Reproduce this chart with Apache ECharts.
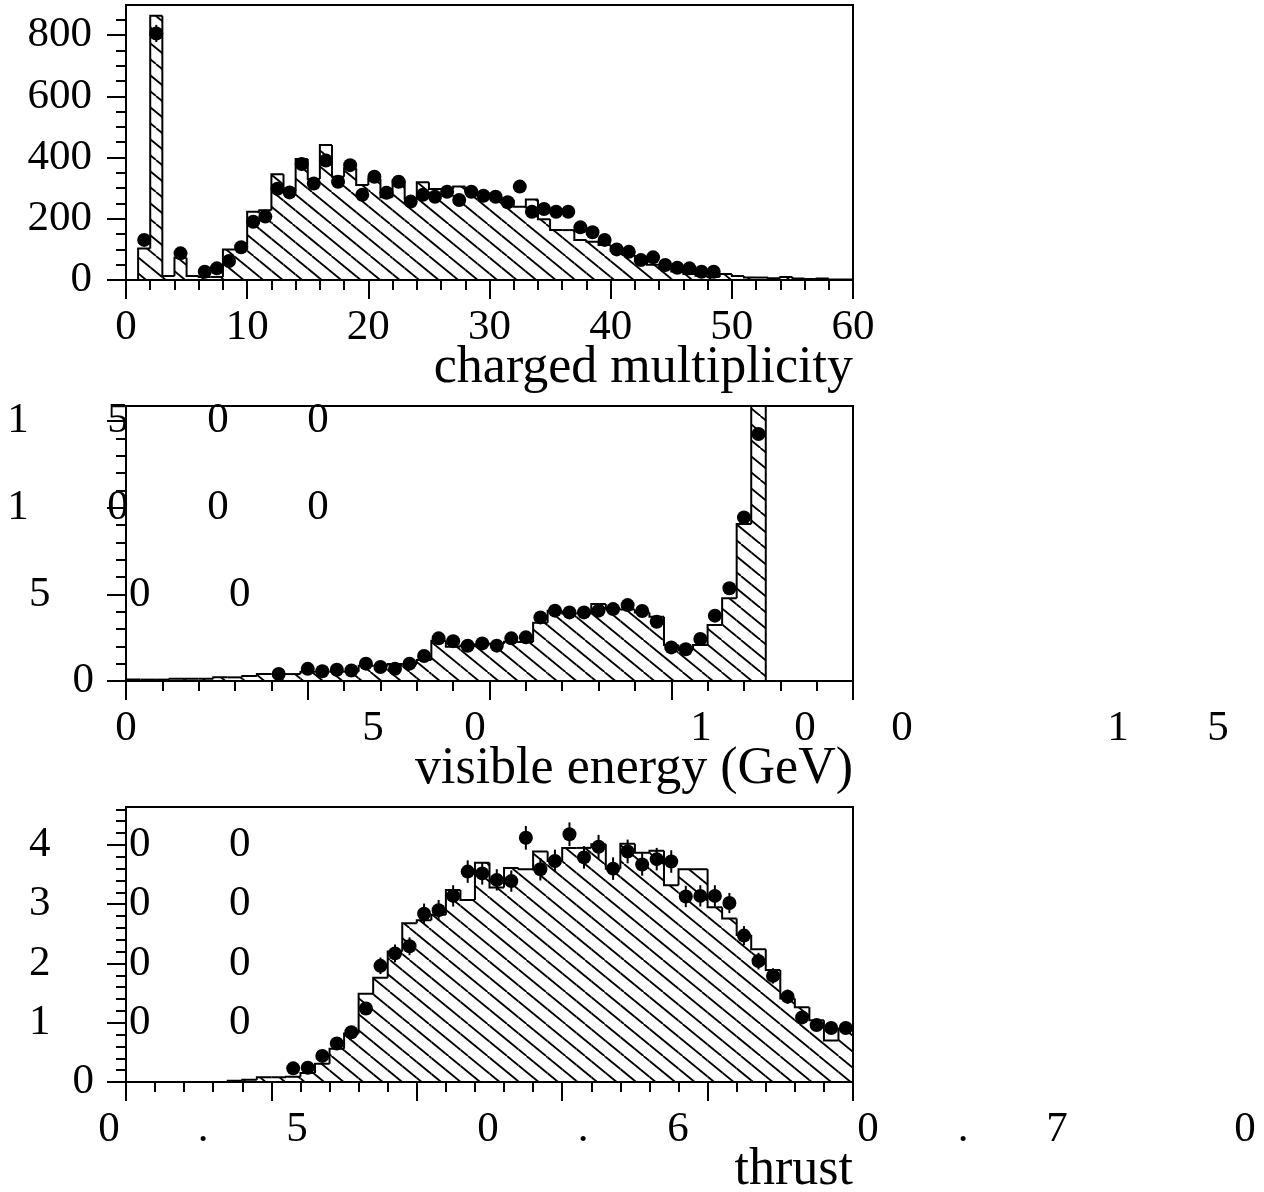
<!DOCTYPE html>
<html><head><meta charset="utf-8">
<script src="https://cdn.jsdelivr.net/npm/echarts@6/dist/echarts.min.js"></script>
<style>html,body{margin:0;padding:0;background:#fff}#c{width:1264px;height:1192px}</style>
</head><body><div id="c"></div>
<script>
// ---------------- DATA ----------------
// Panel 1: charged multiplicity, bins of width 1 from 0 to 60
const MULT_HIST = [0,103,863,13,73,13,10,10,100,100,
  223,228,345,290,395,330,441,337,365,310,
  330,270,325,265,319,297,297,305,290,283,
  272,262,239,263,198,163,163,131,125,114,
  95,82,62,50,38,28,20,14,10,20,
  13,8,8,6,10,5,3,5,2,2];
const MULT_DOTS = [null,131,805,null,87,null,27,38,62,107,
  190,207,298,286,379,315,390,321,375,278,
  337,285,321,256,278,272,288,261,288,275,
  272,254,305,223,232,223,223,172,156,131,
  100,92,65,74,49,40,38,27,27,null,
  null,null,null,null,null,null,null,null,null,null];
const MULT_ERR = [0,11,28,0,9,0,5,6,8,10,
  14,14,17,17,19,18,20,18,19,17,
  18,17,18,16,17,16,17,16,17,17,
  16,16,17,15,15,15,15,13,12,11,
  10,10,8,9,7,6,6,5,5,0,
  0,0,0,0,0,0,0,0,0,0];
const MULT_Y_TICKS = [0,200,400,600,800];

// Panel 2: visible energy (GeV), bins of 4 GeV from 0 to 200
const ENERGY_HIST = [8,8,8,13,13,13,21,21,29,40,
  40,40,54,54,54,54,88,88,98,98,
  121,233,198,205,210,215,227,225,336,406,
  390,390,444,419,413,395,371,208,179,208,
  323,477,906,1700,0,0,0,0,0,0];
const ENERGY_DOTS = [null,null,null,null,null,null,null,null,null,null,
  40,null,70,56,65,61,100,81,70,100,
  144,246,230,203,217,204,246,252,367,406,
  396,396,406,415,438,404,342,194,183,242,
  377,535,944,1425,null,null,null,null,null,null];
const ENERGY_Y_TICKS = [1500,1000,500,0];
const ENERGY_Y_LABELS = ['1500','1000','500','0'];
const ENERGY_X_CHARS = ['0','5','0','1','0','0','1','5'];

// Panel 3: thrust, bins of 0.01 from 0.5 to 1.0
const THRUST_HIST = [0,0,0,0,0,0,0,2,4,8,
  8,9,15,31,56,82,149,176,220,268,
  273,282,324,307,370,328,361,359,389,373,
  395,395,401,360,402,387,390,332,359,359,
  295,276,248,224,189,141,126,104,70,90];
const THRUST_DOTS = [null,null,null,null,null,null,null,null,null,null,
  null,23,24,44,65,84,124,196,217,229,
  284,290,314,355,352,341,339,412,359,373,
  418,379,397,360,389,367,376,372,313,314,
  314,302,247,204,179,144,109,96,91,91];
const THRUST_ERR = [0,0,0,0,0,0,0,0,0,0,
  0,5,5,7,8,9,11,14,15,15,
  17,17,18,19,19,18,18,20,19,19,
  20,19,20,19,20,19,19,19,18,18,
  18,17,16,14,13,12,10,10,10,10];
const THRUST_Y_TICKS = [400,300,200,100,0];
const THRUST_Y_LABELS = ['400','300','200','100','0'];
const THRUST_X_CHARS = ['0','.','5','0','.','6','0','.','7','0'];

const TITLES = ['charged multiplicity','visible energy (GeV)','thrust'];

// ---------------- LAYOUT / STYLE ----------------
const SERIF = '"Liberation Serif","Times New Roman",serif';
const TICK_FONT = 43;
const ENERGY_X_CHAR_POS = [126,373,475,701,805,902,1118,1218];
const THRUST_X_CHAR_POS = [109,203,297,488,583,678,868,963,1057,1245];
const GRIDS = [
  {left:126, top:5, width:727, height:275},
  {left:126, top:406, width:727, height:275},
  {left:126, top:807, width:727, height:275}
];

function makeHatch() {
  const w = 39, h = 32;
  const c = document.createElement('canvas');
  c.width = w; c.height = h;
  const g = c.getContext('2d');
  g.strokeStyle = '#000'; g.lineWidth = 1.8;
  for (let k = -3; k <= 3; k++) {
    const dx = k * 19.5;
    g.beginPath(); g.moveTo(dx, 0); g.lineTo(dx + w, h); g.stroke();
  }
  return c;
}
const HATCH = {image: makeHatch(), repeat: 'repeat'};

function histSeries(idx, yIdx, start, width, vals) {
  const data = vals.map((v, i) => [start + i * width, start + (i + 1) * width, v,
    i > 0 ? vals[i - 1] : 0, i === vals.length - 1 ? 1 : 0]);
  return {
    type: 'custom', xAxisIndex: idx, yAxisIndex: yIdx, clip: true, silent: true,
    data: data, encode: {x: [0, 1], y: 2}, z: 2,
    renderItem: function (params, api) {
      const lo = api.value(0), hi = api.value(1), v = api.value(2), pv = api.value(3), last = api.value(4);
      const a = api.coord([lo, v]), b = api.coord([hi, v]), base = api.coord([lo, 0]), p = api.coord([lo, pv]);
      const ch = [];
      if (v > 0) ch.push({type: 'rect', z2: 1, shape: {x: a[0], y: a[1], width: b[0] - a[0], height: base[1] - a[1]}, style: {fill: HATCH}});
      const pts = [[a[0], p[1]], [a[0], a[1]], [b[0], b[1]]];
      if (last) pts.push([b[0], base[1]]);
      ch.push({type: 'polyline', z2: 5, shape: {points: pts}, style: {stroke: '#000', lineWidth: 2, fill: null, lineJoin: 'miter'}});
      return {type: 'group', children: ch};
    }
  };
}
function dotSeries(idx, yIdx, start, width, vals) {
  const data = [];
  vals.forEach((v, i) => { if (v !== null) data.push([start + (i + 0.5) * width, v]); });
  return {type: 'scatter', xAxisIndex: idx, yAxisIndex: yIdx, data: data, symbol: 'circle', symbolSize: 14,
    itemStyle: {color: '#000', opacity: 1}, silent: true, z: 4};
}
function errSeries(idx, yIdx, start, width, vals, errs) {
  const data = [];
  vals.forEach((v, i) => { if (v !== null && errs[i] > 0) data.push([start + (i + 0.5) * width, v, errs[i]]); });
  return {type: 'custom', xAxisIndex: idx, yAxisIndex: yIdx, clip: true, silent: true, z: 3,
    data: data, encode: {x: 0, y: 1},
    renderItem: function (params, api) {
      const x = api.value(0), y = api.value(1), e = api.value(2);
      const p1 = api.coord([x, y - e]), p2 = api.coord([x, y + e]);
      return {type: 'line', shape: {x1: p1[0], y1: p1[1], x2: p2[0], y2: p2[1]}, style: {stroke: '#000', lineWidth: 2}};
    }};
}
function xAxis(grid, min, max, interval, showLabel) {
  return {type: 'value', gridIndex: grid, min: min, max: max, interval: interval, position: 'bottom',
    axisLine: {show: true, onZero: false, lineStyle: {color: '#000', width: 2}},
    axisTick: {show: true, inside: false, length: 19, lineStyle: {color: '#000', width: 2}},
    minorTick: {show: true, splitNumber: 5, length: 10, lineStyle: {color: '#000', width: 2}},
    splitLine: {show: false}, minorSplitLine: {show: false},
    axisLabel: {show: showLabel, fontFamily: SERIF, fontSize: TICK_FONT, color: '#000', margin: 26}};
}
function minorVals(step, max) { const r = []; for (let v = 0; v <= max + 1e-9; v += step) r.push(+v.toFixed(6)); return r; }
function yAxes(grid, max, majors, minorStep, minorMax, showLabel) {
  return [
    {type: 'value', gridIndex: grid, min: 0, max: max, position: 'left',
      axisLine: {show: true, onZero: false, lineStyle: {color: '#000', width: 2}},
      axisTick: {show: true, inside: false, length: 19, customValues: majors, lineStyle: {color: '#000', width: 2}},
      axisLabel: {show: showLabel, customValues: majors, fontFamily: SERIF, fontSize: TICK_FONT, color: '#000', margin: 34},
      splitLine: {show: false}},
    {type: 'value', gridIndex: grid, min: 0, max: max, position: 'left',
      axisLine: {show: false},
      axisTick: {show: true, inside: false, length: 10, customValues: minorVals(minorStep, minorMax), lineStyle: {color: '#000', width: 2}},
      axisLabel: {show: false}, splitLine: {show: false}}
  ];
}

const chart = echarts.init(document.getElementById('c'), null, {renderer: 'canvas'});
const option = {
  animation: false,
  backgroundColor: '#fff',
  grid: GRIDS.map(g => Object.assign({show: true, borderColor: '#000', borderWidth: 2, backgroundColor: 'transparent'}, g)),
  xAxis: [xAxis(0, 0, 60, 10, true), xAxis(1, 0, 200, 50, false), xAxis(2, 0.5, 1.0, 0.1, false)],
  yAxis: [].concat(yAxes(0, 898, MULT_Y_TICKS, 50, 850, true),
                   yAxes(1, 1587, ENERGY_Y_TICKS, 100, 1500, false),
                   yAxes(2, 464, THRUST_Y_TICKS, 20, 460, false)),
  series: [
    histSeries(0, 0, 0, 1, MULT_HIST),
    errSeries(0, 0, 0, 1, MULT_DOTS, MULT_ERR),
    dotSeries(0, 0, 0, 1, MULT_DOTS),
    histSeries(1, 2, 0, 4, ENERGY_HIST),
    dotSeries(1, 2, 0, 4, ENERGY_DOTS),
    histSeries(2, 4, 0.5, 0.01, THRUST_HIST),
    errSeries(2, 4, 0.5, 0.01, THRUST_DOTS, THRUST_ERR),
    dotSeries(2, 4, 0.5, 0.01, THRUST_DOTS)
  ]
};
chart.setOption(option);

// text layer: titles and spread-out tick labels
function glyph(ch, x, y, size, align) {
  return {type: 'text', x: x, y: y, silent: true, z: 10,
    style: {text: ch, font: size + 'px ' + SERIF, fill: '#000',
      textAlign: align || 'center', textVerticalAlign: 'middle', align: align || 'center', verticalAlign: 'middle'}};
}
const texts = [];
const LABEL_DY = 48, TITLE_DY = 88;
[0, 1, 2].forEach(i => {
  const base = GRIDS[i].top + GRIDS[i].height;
  texts.push(glyph(TITLES[i], 853, base + TITLE_DY, 52, 'right'));
});
// y labels, spread with a 100px pitch, right-aligned as if normally spaced
function yLabelChars(labels, ticks, yAxisIndex) {
  labels.forEach((lab, k) => {
    const y = chart.convertToPixel({yAxisIndex: yAxisIndex}, ticks[k]);
    const n = lab.length;
    for (let j = 0; j < n; j++) texts.push(glyph(lab[j], 94 - 21.75 * n + 10.875 + 100 * j, y, TICK_FONT));
  });
}
yLabelChars(ENERGY_Y_LABELS, ENERGY_Y_TICKS, 2);
yLabelChars(THRUST_Y_LABELS, THRUST_Y_TICKS, 4);
const yE = GRIDS[1].top + GRIDS[1].height + LABEL_DY;
ENERGY_X_CHARS.forEach((c, j) => texts.push(glyph(c, ENERGY_X_CHAR_POS[j], yE, TICK_FONT)));
const yT = GRIDS[2].top + GRIDS[2].height + LABEL_DY;
THRUST_X_CHARS.forEach((c, j) => texts.push(glyph(c, THRUST_X_CHAR_POS[j], yT, TICK_FONT)));
chart.setOption({graphic: {elements: texts}});
</script>
</body></html>
